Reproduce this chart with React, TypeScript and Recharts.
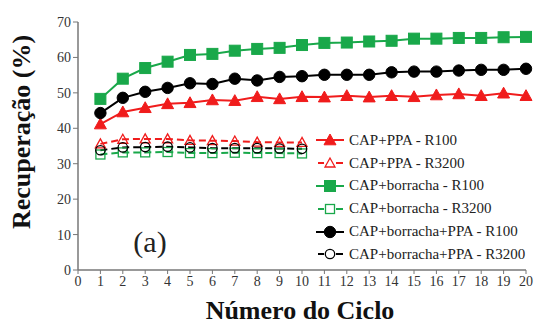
import React from 'react';
import { LineChart, Line, XAxis, YAxis } from 'recharts';

const ciclos = [1, 2, 3, 4, 5, 6, 7, 8, 9, 10, 11, 12, 13, 14, 15, 16, 17, 18, 19, 20];
const ppaR100 = [41.2, 44.6, 45.8, 46.9, 47.2, 48.0, 47.8, 48.9, 48.3, 48.9, 48.8, 49.2, 48.8, 49.2, 48.9, 49.4, 49.7, 49.2, 49.9, 49.2];
const ppaR3200 = [35.6, 36.9, 37.0, 37.0, 36.6, 36.5, 36.4, 36.1, 36.0, 36.0];
const borR100 = [48.3, 54.0, 57.0, 58.8, 60.7, 61.0, 61.9, 62.4, 62.7, 63.5, 64.1, 64.2, 64.5, 64.7, 65.3, 65.3, 65.5, 65.5, 65.7, 65.8];
const borR3200 = [32.6, 33.2, 33.2, 33.3, 33.0, 33.0, 33.1, 33.0, 33.0, 32.9];
const bppaR100 = [44.3, 48.6, 50.3, 51.4, 52.7, 52.5, 54.0, 53.5, 54.5, 54.7, 55.1, 55.1, 55.1, 55.8, 56.0, 56.0, 56.3, 56.5, 56.5, 56.8];
const bppaR3200 = [33.8, 34.6, 34.7, 34.8, 34.6, 34.4, 34.4, 34.4, 34.3, 34.2];
const xTicks = [0, 1, 2, 3, 4, 5, 6, 7, 8, 9, 10, 11, 12, 13, 14, 15, 16, 17, 18, 19, 20];
const yTicks = [0, 10, 20, 30, 40, 50, 60, 70];

const RED = '#f01c1c';
const GREEN = '#19a84a';
const BLACK = '#000000';
const SERIF = '"Liberation Serif", "Times New Roman", Times, serif';

const data = ciclos.map((c, i) => ({
  ciclo: c,
  ppaR100: ppaR100[i],
  ppaR3200: ppaR3200[i],
  borR100: borR100[i],
  borR3200: borR3200[i],
  bppaR100: bppaR100[i],
  bppaR3200: bppaR3200[i],
}));

type Shape = 'tri' | 'sq' | 'circ';

const Marker = ({ shape, cx, cy, color, filled }: { shape: Shape; cx: number; cy: number; color: string; filled: boolean }) => {
  const fill = filled ? color : 'none';
  const sw = filled ? 1 : 1.3;
  const s = filled ? 6 : 5;
  if (shape === 'tri') {
    return <polygon points={`${cx},${cy - s} ${cx - s},${cy + s * 0.8} ${cx + s},${cy + s * 0.8}`} fill={fill} stroke={color} strokeWidth={sw} />;
  }
  if (shape === 'sq') {
    return <rect x={cx - s + 0.5} y={cy - s + 0.5} width={2 * s - 1} height={2 * s - 1} fill={fill} stroke={color} strokeWidth={sw} />;
  }
  return <circle cx={cx} cy={cy} r={s - 0.3} fill={fill} stroke={color} strokeWidth={sw} />;
};

const makeDot = (shape: Shape, color: string, filled: boolean) => (props: any) => {
  const { cx, cy, index, value } = props;
  if (cx == null || cy == null || value == null || Number.isNaN(cy)) return <g key={`e${index}`} />;
  return (
    <g key={`d${index}`}>
      <Marker shape={shape} cx={cx} cy={cy} color={color} filled={filled} />
    </g>
  );
};

const seriesDefs = [
  { key: 'ppaR100', name: 'CAP+PPA - R100', shape: 'tri' as Shape, color: RED, filled: true, dash: undefined },
  { key: 'ppaR3200', name: 'CAP+PPA - R3200', shape: 'tri' as Shape, color: RED, filled: false, dash: '7 4' },
  { key: 'borR100', name: 'CAP+borracha - R100', shape: 'sq' as Shape, color: GREEN, filled: true, dash: undefined },
  { key: 'borR3200', name: 'CAP+borracha - R3200', shape: 'sq' as Shape, color: GREEN, filled: false, dash: '7 4' },
  { key: 'bppaR100', name: 'CAP+borracha+PPA - R100', shape: 'circ' as Shape, color: BLACK, filled: true, dash: undefined },
  { key: 'bppaR3200', name: 'CAP+borracha+PPA - R3200', shape: 'circ' as Shape, color: BLACK, filled: false, dash: '7 4' },
];

const LegendBox = () => (
  <div style={{ position: 'absolute', left: 316, top: 129, fontFamily: SERIF, fontSize: 15, color: '#222' }}>
    {seriesDefs.map((s) => (
      <div key={s.key} style={{ display: 'flex', alignItems: 'center', height: 22.8, whiteSpace: 'nowrap' }}>
        <svg width={30} height={16} style={{ marginRight: 3 }}>
          {s.dash ? (
            <>
              <line x1={2} y1={8} x2={8} y2={8} stroke={s.color} strokeWidth={2} />
              <line x1={20} y1={8} x2={27} y2={8} stroke={s.color} strokeWidth={2} />
            </>
          ) : (
            <line x1={0} y1={8} x2={28} y2={8} stroke={s.color} strokeWidth={2} />
          )}
          <Marker shape={s.shape} cx={14} cy={8} color={s.color} filled={s.filled} />
        </svg>
        <span>{s.name}</span>
      </div>
    ))}
  </div>
);

export default function App() {
  return (
    <div style={{ position: 'absolute', left: 0, top: 0, width: 537, height: 326, background: '#fff', fontFamily: SERIF }}>
      <LineChart width={537} height={326} data={data} margin={{ top: 22, right: 11, left: 30, bottom: 26 }} style={{ fontFamily: SERIF }}>
        <XAxis
          dataKey="ciclo"
          type="number"
          domain={[0, 20]}
          ticks={xTicks}
          interval={0}
          axisLine={{ stroke: '#777', strokeWidth: 1.5 }}
          tickLine={{ stroke: '#777' }}
          tickSize={4}
          height={30}
          tick={{ fill: '#333', fontSize: 14, fontFamily: SERIF }}
        />
        <YAxis
          type="number"
          domain={[0, 70]}
          ticks={yTicks}
          interval={0}
          width={48}
          axisLine={{ stroke: '#777', strokeWidth: 1.5 }}
          tickLine={{ stroke: '#777' }}
          tickSize={5}
          tick={{ fill: '#333', fontSize: 14, fontFamily: SERIF }}
        />
        {seriesDefs.map((s) => (
          <Line
            key={s.key}
            dataKey={s.key}
            name={s.name}
            stroke={s.color}
            strokeWidth={2}
            strokeDasharray={s.dash}
            dot={makeDot(s.shape, s.color, s.filled)}
            activeDot={false}
            isAnimationActive={false}
            connectNulls={false}
          />
        ))}
      </LineChart>
      <div style={{ position: 'absolute', left: 0, top: 0, width: 537, height: 326, pointerEvents: 'none' }}>
        <LegendBox />
        <div
          style={{
            position: 'absolute',
            left: 22,
            top: 132,
            transform: 'translate(-50%, -50%) rotate(-90deg)',
            fontFamily: SERIF,
            fontWeight: 'bold',
            fontSize: 26,
            whiteSpace: 'nowrap',
            color: '#111',
          }}
        >
          Recuperação (%)
        </div>
        <div
          style={{
            position: 'absolute',
            left: 300,
            top: 311,
            transform: 'translate(-50%, -50%)',
            fontFamily: SERIF,
            fontWeight: 'bold',
            fontSize: 26,
            whiteSpace: 'nowrap',
            color: '#111',
          }}
        >
          Número do Ciclo
        </div>
        <div
          style={{
            position: 'absolute',
            left: 150,
            top: 242,
            transform: 'translate(-50%, -50%)',
            fontFamily: SERIF,
            fontSize: 30,
            whiteSpace: 'nowrap',
            color: '#222',
          }}
        >
          (a)
        </div>
      </div>
    </div>
  );
}
